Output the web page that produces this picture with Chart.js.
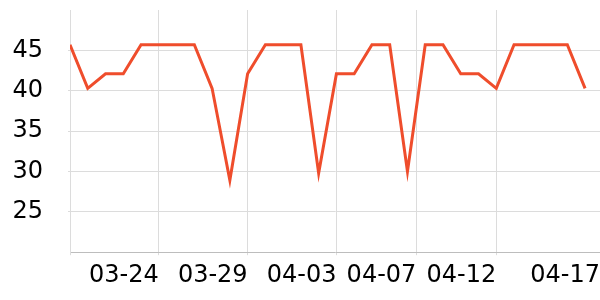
<!DOCTYPE html>
<html>
<head>
<meta charset="utf-8">
<script src="https://cdn.jsdelivr.net/npm/chart.js@4/dist/chart.umd.min.js"></script>
<style>
  html, body { margin: 0; padding: 0; background: #fff; }
  #wrap { width: 600px; height: 300px; position: relative; }
</style>
</head>
<body>
<div id="wrap"><canvas id="c"></canvas></div>
<script>
// Series values, one per reading (equally spaced along the x axis)
const values = [45.7, 40.3, 42.1, 42.1, 45.7, 45.7, 45.7, 45.7, 40.3, 28.9,
                42.1, 45.7, 45.7, 45.7, 29.8, 42.1, 42.1, 45.7, 45.7, 30.0,
                45.7, 45.7, 42.1, 42.1, 40.3, 45.7, 45.7, 45.7, 45.7, 40.3];
// Date ticks of the x axis and where they fall, in reading-index units
const tickLabels = ['', '03-24', '03-29', '04-03', '04-07', '04-12', '04-17'];
const tickPositions = [0, 5, 10, 15, 19.5, 24, 29.84];
// Value ticks of the y axis
const yTicks = [25, 30, 35, 40, 45];

const points = values.map((v, i) => ({ x: i, y: v }));
const FONT = 'DejaVu Sans';

new Chart(document.getElementById('c'), {
  type: 'line',
  data: {
    datasets: [{
      data: points,
      borderColor: '#ef4d2c',
      borderWidth: 3,
      pointRadius: 0,
      tension: 0,
      fill: false
    }]
  },
  options: {
    responsive: true,
    maintainAspectRatio: false,
    animation: false,
    events: [],
    layout: { padding: { left: 0, right: 0, top: 10, bottom: 4 } },
    plugins: { legend: { display: false }, tooltip: { enabled: false } },
    scales: {
      x: {
        type: 'linear',
        min: tickPositions[0],
        max: tickPositions[tickPositions.length - 1],
        afterBuildTicks: (axis) => { axis.ticks = tickPositions.map(v => ({ value: v })); },
        afterFit: (axis) => {
          axis.paddingLeft = 0; axis.paddingRight = 0;
          axis.paddingTop = 0; axis.paddingBottom = 0;
        },
        ticks: {
          autoSkip: false,
          maxRotation: 0,
          align: 'end',
          padding: 6,
          color: '#000',
          font: { family: FONT, size: 24 },
          callback: (v, i) => tickLabels[i]
        },
        grid: { color: '#dcdcdc', lineWidth: 1, tickLength: 3, drawTicks: true },
        border: { display: true, color: '#bdbdbd', width: 1 }
      },
      y: {
        type: 'linear',
        min: 20,
        max: 50,
        afterBuildTicks: (axis) => { axis.ticks = yTicks.map(v => ({ value: v })); },
        afterFit: (axis) => {
          axis.width = 70;
          axis.paddingLeft = 0; axis.paddingRight = 0;
          axis.paddingTop = 0; axis.paddingBottom = 0;
        },
        ticks: {
          padding: 25,
          color: '#000',
          font: { family: FONT, size: 24 }
        },
        grid: { color: '#dcdcdc', lineWidth: 1, tickLength: 2, drawTicks: true },
        border: { display: true, color: '#dcdcdc', width: 1 }
      }
    }
  }
});
</script>
</body>
</html>
